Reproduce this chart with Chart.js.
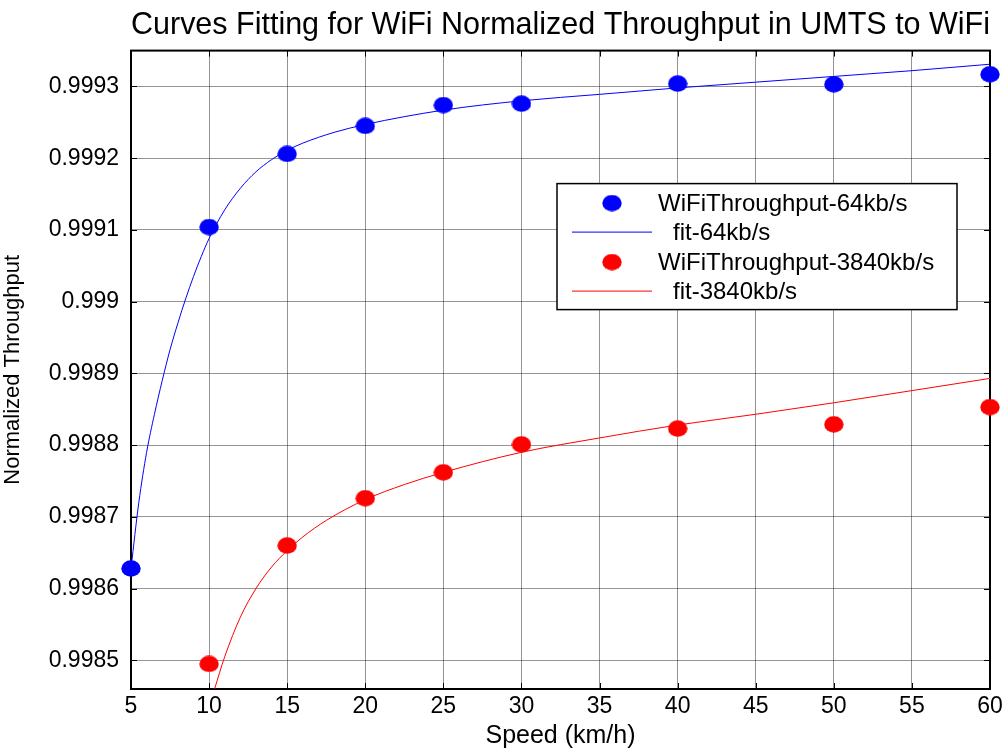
<!DOCTYPE html>
<html>
<head>
<meta charset="utf-8">
<script src="https://cdn.jsdelivr.net/npm/chart.js@4.4.0/dist/chart.umd.min.js"></script>
<style>
  body { margin: 0; background: #fff; }
  #wrap { width: 1007px; height: 749px; }
</style>
</head>
<body>
<div id="wrap"><canvas id="grafico" width="1007" height="749"></canvas></div>
<script>
// medidas (throughput normalizado x velocidade)
const speeds64 = [5, 10, 15, 20, 25, 30, 40, 50, 60];
const thr64 = [0.998628, 0.999104, 0.999206, 0.999245, 0.999274, 0.999276, 0.999304, 0.999303, 0.999317];
const speeds3840 = [10, 15, 20, 25, 30, 40, 50, 60];
const thr3840 = [0.998495, 0.998660, 0.998726, 0.998762, 0.998801, 0.998823, 0.998829, 0.998853];

// curvas ajustadas, lidas ao longo da curva
const fitSpeeds64 = [5, 5.5, 6, 6.5, 7, 7.5, 8, 8.5, 9, 9.5, 10, 11, 12, 13, 14, 15, 16, 17, 18, 20, 25, 30, 35, 40, 45, 50, 55, 60];
const fit64 = [0.998628, 0.998720, 0.998790, 0.998843, 0.998890, 0.998933, 0.998970, 0.999004, 0.999035, 0.999063, 0.999088, 0.999128, 0.999158, 0.999181, 0.999198, 0.999211, 0.999221, 0.999229, 0.999236, 0.999247, 0.999267, 0.999280, 0.999289, 0.999298, 0.999306, 0.999314, 0.999322, 0.999331];
const fitSpeeds3840 = [10.35, 11, 12, 13, 14, 15, 16, 17.5, 20, 22.5, 25, 30, 35, 40, 45, 50, 55, 60];
const fit3840 = [0.998460, 0.998505, 0.998560, 0.998600, 0.998630, 0.998653, 0.998672, 0.998695, 0.998724, 0.998745, 0.998762, 0.998790, 0.998810, 0.998828, 0.998843, 0.998859, 0.998876, 0.998893];

const xTicks = [5, 10, 15, 20, 25, 30, 35, 40, 45, 50, 55, 60];
const yTicks = [0.9985, 0.9986, 0.9987, 0.9988, 0.9989, 0.999, 0.9991, 0.9992, 0.9993];
const yTickLabels = ['0.9985', '0.9986', '0.9987', '0.9988', '0.9989', '0.999', '0.9991', '0.9992', '0.9993'];

const FONT = '"Liberation Sans", Arial, sans-serif';

function pares(xs, ys) {
    return xs.map((x, i) => ({ x: x, y: ys[i] }));
}

// marcador: bolinha um pouco achatada
function bolinha(cor) {
    const c = document.createElement('canvas');
    c.width = 20; c.height = 17;
    const g = c.getContext('2d');
    g.fillStyle = cor;
    g.beginPath();
    g.ellipse(10, 8.5, 9.7, 8.3, 0, 0, Math.PI * 2);
    g.fill();
    return c;
}
const bolaAzul = bolinha('#0000ff');
const bolaVermelha = bolinha('#ff0000');

// moldura preta + marcas de tick para dentro (estilo matlab)
const moldura = {
    id: 'moldura',
    beforeDatasetsDraw(chart) {
        const ctx = chart.ctx;
        const a = chart.chartArea;
        const sx = chart.scales.x, sy = chart.scales.y;
        ctx.save();
        ctx.strokeStyle = '#000';
        ctx.lineWidth = 1;
        xTicks.forEach((t) => {
            const px = Math.round(sx.getPixelForValue(t)) + 0.5;
            ctx.beginPath();
            ctx.moveTo(px, a.top); ctx.lineTo(px, a.top + 6);
            ctx.moveTo(px, a.bottom); ctx.lineTo(px, a.bottom - 6);
            ctx.stroke();
        });
        yTicks.forEach((t) => {
            const py = Math.round(sy.getPixelForValue(t)) + 0.5;
            ctx.beginPath();
            ctx.moveTo(a.left, py); ctx.lineTo(a.left + 6, py);
            ctx.moveTo(a.right, py); ctx.lineTo(a.right - 6, py);
            ctx.stroke();
        });
        ctx.lineWidth = 2;
        ctx.strokeRect(a.left, a.top, a.right - a.left, a.bottom - a.top);
        ctx.restore();
    }
};

// legenda dentro da area do grafico
const legenda = {
    id: 'legenda',
    afterDraw(chart) {
        const ctx = chart.ctx;
        const a = chart.chartArea;
        const bx = a.left + 426, by = a.top + 133, bw = 400, bh = 126;
        ctx.save();
        ctx.fillStyle = '#fff';
        ctx.fillRect(bx, by, bw, bh);
        ctx.strokeStyle = '#000';
        ctx.lineWidth = 1.5;
        ctx.strokeRect(bx, by, bw, bh);
        ctx.font = '24px ' + FONT;
        ctx.textBaseline = 'middle';
        const rows = [19, 48, 78, 107];
        chart.data.datasets.forEach((ds, i) => {
            const cy = by + rows[i];
            ctx.strokeStyle = ds.borderColor;
            if (ds.showLine) {
                ctx.lineWidth = 1;
                ctx.beginPath();
                ctx.moveTo(bx + 15, cy + 0.5);
                ctx.lineTo(bx + 95, cy + 0.5);
                ctx.stroke();
                ctx.fillStyle = '#000';
                ctx.fillText(ds.label, bx + 116, cy + 2);
            } else {
                ctx.drawImage(ds.pointStyle, bx + 45, cy - 8);
                ctx.fillStyle = '#000';
                ctx.fillText(ds.label, bx + 101, cy + 2);
            }
        });
        ctx.restore();
    }
};

const ctx = document.getElementById('grafico');

new Chart(ctx, {
    type: 'scatter',
    data: {
        datasets: [
            {
                label: 'WiFiThroughput-64kb/s',
                data: pares(speeds64, thr64),
                borderColor: '#0000ff',
                backgroundColor: '#0000ff',
                pointStyle: bolaAzul,
                showLine: false,
                clip: false
            },
            {
                label: 'fit-64kb/s',
                data: pares(fitSpeeds64, fit64),
                borderColor: '#0000ff',
                borderWidth: 1,
                pointRadius: 0,
                showLine: true,
                cubicInterpolationMode: 'monotone'
            },
            {
                label: 'WiFiThroughput-3840kb/s',
                data: pares(speeds3840, thr3840),
                borderColor: '#ff0000',
                backgroundColor: '#ff0000',
                pointStyle: bolaVermelha,
                showLine: false,
                clip: false
            },
            {
                label: 'fit-3840kb/s',
                data: pares(fitSpeeds3840, fit3840),
                borderColor: '#ff0000',
                borderWidth: 1,
                pointRadius: 0,
                showLine: true,
                cubicInterpolationMode: 'monotone'
            }
        ]
    },
    options: {
        responsive: false,
        animation: false,
        layout: { padding: { left: 0, right: 17, top: 0, bottom: 0 } },
        plugins: {
            legend: { display: false },
            tooltip: { enabled: false },
            title: {
                display: true,
                fullSize: false,
                text: 'Curves Fitting for WiFi Normalized Throughput in UMTS to WiFi',
                color: '#000',
                font: { family: FONT, size: 30.5, weight: 'normal' },
                padding: { top: 7, bottom: 7 }
            }
        },
        scales: {
            x: {
                type: 'linear',
                min: 5,
                max: 60,
                afterBuildTicks: (s) => { s.ticks = xTicks.map((v) => ({ value: v })); },
                afterFit: (s) => { s.height = 60; },
                ticks: {
                    color: '#000',
                    padding: 4,
                    maxRotation: 0,
                    font: { family: FONT, size: 23 },
                    callback: (v) => String(v)
                },
                grid: { color: 'rgba(0,0,0,0.42)', lineWidth: 1, drawTicks: false },
                border: { display: false },
                title: {
                    display: true,
                    text: 'Speed (km/h)',
                    color: '#000',
                    font: { family: FONT, size: 25, lineHeight: 1 },
                    padding: { top: 6, bottom: 0 }
                }
            },
            y: {
                type: 'linear',
                min: 0.99846,
                max: 0.99935,
                afterBuildTicks: (s) => { s.ticks = yTicks.map((v) => ({ value: v })); },
                afterFit: (s) => { s.width = 131; },
                ticks: {
                    color: '#000',
                    padding: 12,
                    font: { family: FONT, size: 23 },
                    callback: (v) => {
                        const i = yTicks.findIndex((t) => Math.abs(t - v) < 1e-9);
                        return i >= 0 ? yTickLabels[i] : '';
                    }
                },
                grid: { color: 'rgba(0,0,0,0.42)', lineWidth: 1, drawTicks: false },
                border: { display: false },
                title: {
                    display: true,
                    text: 'Normalized Throughput',
                    color: '#000',
                    font: { family: FONT, size: 22 },
                    padding: { top: 0, bottom: 6 }
                }
            }
        }
    },
    plugins: [moldura, legenda]
});
</script>
</body>
</html>
